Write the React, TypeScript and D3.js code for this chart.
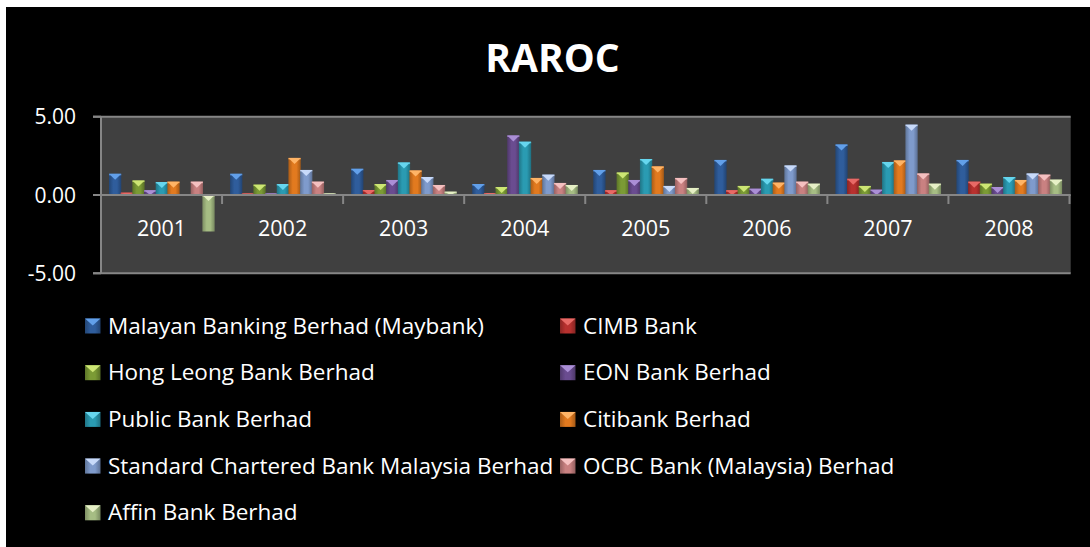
import React from 'react';
import * as d3 from 'd3';

const years = ['2001', '2002', '2003', '2004', '2005', '2006', '2007', '2008'];

const seriesNames = [
  'Malayan Banking Berhad (Maybank)',
  'CIMB Bank',
  'Hong Leong Bank Berhad',
  'EON Bank Berhad',
  'Public Bank Berhad',
  'Citibank Berhad',
  'Standard Chartered Bank Malaysia Berhad',
  'OCBC Bank (Malaysia) Berhad',
  'Affin Bank Berhad',
];

const maybank = [1.35, 1.35, 1.67, 0.7, 1.6, 2.24, 3.22, 2.24];
const cimb = [0.15, 0.1, 0.32, 0.12, 0.3, 0.3, 1.03, 0.85];
const hongLeong = [0.92, 0.66, 0.7, 0.51, 1.43, 0.58, 0.58, 0.72];
const eon = [0.3, 0.1, 0.96, 3.8, 0.96, 0.4, 0.34, 0.51];
const publicBank = [0.83, 0.7, 2.07, 3.4, 2.3, 1.03, 2.11, 1.15];
const citibank = [0.85, 2.37, 1.56, 1.09, 1.82, 0.79, 2.2, 0.96];
const standardChartered = [0.03, 1.6, 1.15, 1.3, 0.58, 1.88, 4.49, 1.37];
const ocbc = [0.85, 0.85, 0.64, 0.77, 1.09, 0.85, 1.37, 1.3];
const affin = [-2.33, 0.1, 0.21, 0.64, 0.45, 0.72, 0.72, 0.98];

const seriesValues = [maybank, cimb, hongLeong, eon, publicBank, citibank, standardChartered, ocbc, affin];

const yTicks = [5, 0, -5];

// body colour, top bevel colour
const colors = [
  ['#2f5d9c', '#62a0ea'],
  ['#b8312f', '#e86a66'],
  ['#7b9b35', '#cde674'],
  ['#6a4c90', '#ab8fd6'],
  ['#2a9bb2', '#66d6ee'],
  ['#e27a1f', '#ffb466'],
  ['#7f9bcc', '#c8dafa'],
  ['#c98181', '#f5c0c0'],
  ['#a6bd84', '#e6f0c6'],
];

const W = 1090;
const H = 547;
const plot = { left: 101, right: 1070.7, top: 116.7, bottom: 273.3 };
const font = '"Open Sans", sans-serif';
const fmt = (v: number) => d3.format('.2f')(v).replace('\u2212', '-');

export default function App() {
  const x0 = d3.scaleBand<string>().domain(years).range([plot.left, 1069.5]);
  const bw = x0.bandwidth();
  const x1 = d3
    .scaleBand<number>()
    .domain(d3.range(seriesNames.length))
    .range([8, bw - 8]);
  const y = d3.scaleLinear().domain([-5, 5]).range([plot.bottom, plot.top]);
  const y0 = y(0);

  return (
    <svg
      width={W}
      height={H}
      style={{ position: 'absolute', left: 0, top: 0, background: '#fff' }}
      fontFamily={font}
    >
      <defs>
        {colors.map(([c], i) => (
          <linearGradient key={i} id={`g${i}`} x1="0" x2="1" y1="0" y2="0">
            <stop offset="0%" stopColor={d3.color(c)!.darker(0.8).toString()} />
            <stop offset="35%" stopColor={c} />
            <stop offset="65%" stopColor={c} />
            <stop offset="100%" stopColor={d3.color(c)!.darker(0.9).toString()} />
          </linearGradient>
        ))}
      </defs>
      <rect x={6} y={7} width={W - 6} height={H - 7} fill="#000" />

      <text x={552.5} y={71.5} fill="#fff" fontSize={39} fontWeight="bold" textAnchor="middle">
        RAROC
      </text>

      <rect
        x={plot.left}
        y={plot.top}
        width={plot.right - plot.left}
        height={plot.bottom - plot.top}
        fill="#404040"
      />

      {yTicks.map((t) => (
        <g key={t}>
          {t !== 0 && (
            <line x1={93} x2={plot.right} y1={y(t)} y2={y(t)} stroke="#868686" strokeWidth={2} />
          )}
          <line x1={93} x2={plot.left} y1={y(t)} y2={y(t)} stroke="#868686" strokeWidth={2} />
          <text x={76} y={y(t) + 7.5} fill="#fff" fontSize={21} textAnchor="end">
            {fmt(t)}
          </text>
        </g>
      ))}

      {years.map((yr, i) => (
        <g key={yr} transform={`translate(${x0(yr)},0)`}>
          {seriesValues.map((vals, s) => {
            const v = vals[i];
            const bx = x1(s)!;
            const w = x1.bandwidth() + 0.6;
            const top = Math.min(y(v), y0);
            const h = Math.max(Math.abs(y(v) - y0), 1);
            const tri = Math.min(w / 2, h, 6);
            return (
              <g key={s}>
                <rect x={bx} y={top} width={w} height={h} fill={`url(#g${s})`} />
                <polygon
                  points={`${bx},${top} ${bx + w},${top} ${bx + w / 2},${top + tri}`}
                  fill={colors[s][1]}
                />
                <rect x={bx} y={top} width={w} height={Math.min(1.5, h)} fill={colors[s][1]} opacity={0.7} />
              </g>
            );
          })}
        </g>
      ))}

      <line x1={plot.left} x2={plot.right} y1={y0} y2={y0} stroke="#868686" strokeWidth={2} />
      <line x1={plot.left} x2={plot.left} y1={plot.top} y2={plot.bottom} stroke="#868686" strokeWidth={2} />
      {years.map((yr) => (
        <line
          key={yr}
          x1={x0(yr)! + bw}
          x2={x0(yr)! + bw}
          y1={y0}
          y2={y0 + 9}
          stroke="#868686"
          strokeWidth={2}
        />
      ))}
      {years.map((yr) => (
        <text key={yr} x={x0(yr)! + bw / 2} y={236} fill="#fff" fontSize={21.5} textAnchor="middle">
          {yr}
        </text>
      ))}

      {seriesNames.map((name, s) => {
        const col = s % 2;
        const row = Math.floor(s / 2);
        const lx = col === 0 ? 85 : 560;
        const ly = 333.5 + row * 46.7;
        return (
          <g key={name}>
            <rect x={lx} y={ly - 15} width={15.5} height={15} fill={`url(#g${s})`} />
            <polygon
              points={`${lx},${ly - 15} ${lx + 15.5},${ly - 15} ${lx + 7.75},${ly - 8}`}
              fill={colors[s][1]}
            />
            <text x={lx + 23} y={ly} fill="#fff" fontSize={22.5}>
              {name}
            </text>
          </g>
        );
      })}
    </svg>
  );
}
